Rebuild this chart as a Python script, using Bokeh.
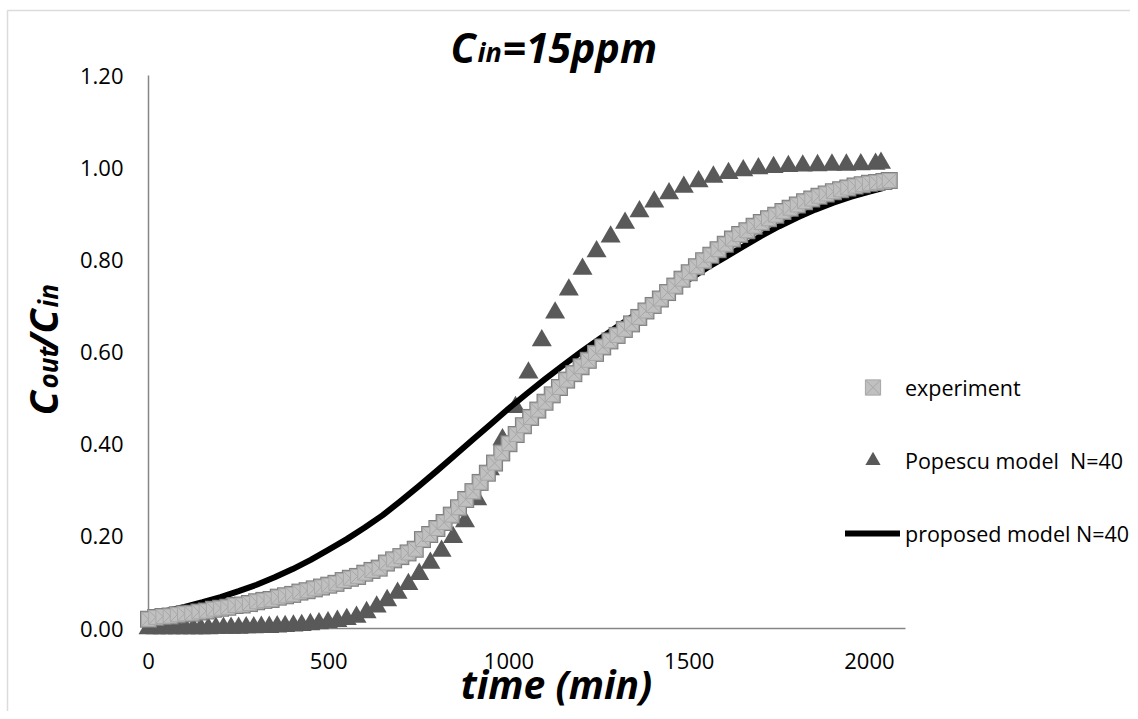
import math
from bokeh.plotting import figure
from bokeh.models import (Range1d, FixedTicker, NumeralTickFormatter, Label,
                          Legend, LegendItem, BoxAnnotation)
from bokeh.embed import file_html
from bokeh.resources import INLINE

# ---------------- data ----------------
exp_time = [0, 20, 40, 60, 80, 100, 120, 140, 160, 180, 200, 220, 240, 260, 280, 300,
            320, 340, 360, 380, 400, 420, 440, 460, 480, 500, 520, 540, 560, 580, 600,
            620, 640, 660, 680, 700, 720, 740, 760, 780, 800, 820, 840, 860, 880, 900,
            920, 940, 960, 980, 1000, 1020, 1040, 1060, 1080, 1100, 1120, 1140, 1160,
            1180, 1200, 1220, 1240, 1260, 1280, 1300, 1320, 1340, 1360, 1380, 1400,
            1420, 1440, 1460, 1480, 1500, 1520, 1540, 1560, 1580, 1600, 1620, 1640,
            1660, 1680, 1700, 1720, 1740, 1760, 1780, 1800, 1820, 1840, 1860, 1880,
            1900, 1920, 1940, 1960, 1980, 2000, 2020, 2040, 2055]
exp_value = [0.020, 0.024, 0.026, 0.027, 0.030, 0.032, 0.033, 0.036, 0.038, 0.042, 0.044,
             0.046, 0.050, 0.051, 0.054, 0.058, 0.061, 0.063, 0.068, 0.071, 0.074, 0.079,
             0.082, 0.086, 0.090, 0.094, 0.098, 0.104, 0.109, 0.113, 0.120, 0.126, 0.131,
             0.142, 0.149, 0.156, 0.164, 0.172, 0.193, 0.204, 0.217, 0.230, 0.246, 0.262,
             0.280, 0.297, 0.317, 0.337, 0.359, 0.381, 0.401, 0.421, 0.440, 0.458, 0.474,
             0.491, 0.507, 0.523, 0.539, 0.553, 0.568, 0.582, 0.597, 0.611, 0.624, 0.636,
             0.649, 0.661, 0.675, 0.689, 0.701, 0.715, 0.729, 0.743, 0.758, 0.772, 0.785,
             0.798, 0.810, 0.822, 0.834, 0.845, 0.855, 0.863, 0.873, 0.881, 0.889, 0.897,
             0.905, 0.912, 0.919, 0.926, 0.932, 0.938, 0.943, 0.948, 0.952, 0.956, 0.960,
             0.963, 0.966, 0.968, 0.970, 0.972]

pop_time = [0, 20, 40, 61, 82, 103, 124, 145, 166, 187, 208, 229, 250, 271, 292, 313,
            335, 357, 379, 402, 425, 449, 473, 498, 524, 550, 577, 605, 633, 662, 691,
            721, 751, 782, 813, 845, 878, 912, 947, 982, 1018, 1054, 1091, 1128, 1166,
            1204, 1243, 1282, 1322, 1362, 1403, 1444, 1485, 1526, 1567, 1609, 1650, 1692,
            1734, 1775, 1815, 1856, 1896, 1936, 1976, 2017, 2032]
pop_value = [0.000, 0.000, 0.000, 0.000, 0.000, 0.000, 0.000, 0.000, 0.000, 0.001, 0.001,
             0.001, 0.001, 0.002, 0.002, 0.003, 0.003, 0.004, 0.005, 0.006, 0.007, 0.009,
             0.011, 0.013, 0.016, 0.020, 0.025, 0.035, 0.047, 0.061, 0.077, 0.096, 0.118,
             0.142, 0.168, 0.198, 0.232, 0.280, 0.345, 0.410, 0.480, 0.555, 0.625, 0.685,
             0.735, 0.780, 0.818, 0.850, 0.880, 0.905, 0.926, 0.944, 0.958, 0.970, 0.980,
             0.988, 0.994, 0.998, 1.001, 1.003, 1.004, 1.005, 1.006, 1.006, 1.007, 1.008,
             1.010]

prop_time = [0, 50, 100, 150, 200, 250, 300, 350, 400, 450, 500, 550, 600, 650, 700, 750,
             800, 850, 900, 950, 1000, 1050, 1100, 1150, 1200, 1250, 1300, 1350, 1400,
             1450, 1500, 1550, 1600, 1650, 1700, 1750, 1800, 1850, 1900, 1950, 2000, 2040]
prop_value = [0.030, 0.038, 0.047, 0.057, 0.068, 0.081, 0.095, 0.111, 0.129, 0.149, 0.171,
              0.194, 0.219, 0.246, 0.277, 0.309, 0.342, 0.376, 0.410, 0.444, 0.478, 0.510,
              0.541, 0.571, 0.600, 0.628, 0.655, 0.681, 0.707, 0.733, 0.758, 0.783, 0.806,
              0.829, 0.852, 0.873, 0.892, 0.909, 0.924, 0.937, 0.948, 0.956]

x_ticks = [0, 500, 1000, 1500, 2000]
y_ticks = [0.0, 0.2, 0.4, 0.6, 0.8, 1.0, 1.2]

series_labels = ["experiment", "Popescu model  N=40", "proposed model N=40"]

FONT = "Open Sans"
W, H = 1130, 711

# frame covers the whole canvas; data origin sits at canvas (148, 628)
X0, Y0 = 148, 628
PX_X = 757 / 2100.0
PX_Y = 553 / 1.2
x_range = Range1d(-X0 / PX_X, (W - X0) / PX_X)
y_range = Range1d(-(H - Y0) / PX_Y, Y0 / PX_Y)

# ---------------- figure ----------------
p = figure(width=W, height=H, output_backend="svg", toolbar_location=None,
           x_range=x_range, y_range=y_range, min_border=0)
p.title.visible = False
p.outline_line_color = None
p.grid.visible = False
p.background_fill_color = "white"
p.border_fill_color = "white"

for ax in (p.xaxis[0], p.yaxis[0]):
    ax.fixed_location = 0
    ax.major_tick_out = 0
    ax.major_tick_in = 0
    ax.minor_tick_out = 0
    ax.minor_tick_in = 0
    ax.axis_line_color = "#868686"
    ax.axis_line_width = 1.5
    ax.major_label_text_font = FONT
    ax.major_label_text_font_size = "22px"
    ax.major_label_text_color = "black"
    ax.level = "underlay"

p.xaxis[0].bounds = (0, 2100)
p.yaxis[0].bounds = (0, 1.2)
p.xaxis[0].ticker = FixedTicker(ticks=x_ticks)
p.yaxis[0].ticker = FixedTicker(ticks=y_ticks)
p.yaxis[0].formatter = NumeralTickFormatter(format="0.00")
p.yaxis[0].major_label_standoff = 25
p.xaxis[0].major_label_standoff = 24

# ---------------- data glyphs ----------------
r_pop = p.scatter(pop_time, pop_value, marker="triangle", size=20,
                  fill_color="#595959", line_color=None)
r_line = p.line(prop_time, prop_value, line_width=6, line_color="black",
                line_cap="round", line_join="round")
r_exp_dark = p.scatter(exp_time, exp_value, marker="square", size=17,
                       fill_color="#7f7f7f", line_color=None)
r_exp_light = p.scatter(exp_time, exp_value, marker="square_x", size=14,
                        fill_color="#c0c0c0", line_color="#a8a8a8", line_width=1)

# ---------------- legend ----------------
legend = Legend(items=[
    LegendItem(label=series_labels[0], renderers=[r_exp_dark, r_exp_light]),
    LegendItem(label=series_labels[1], renderers=[r_pop]),
    LegendItem(label=series_labels[2], renderers=[r_line]),
], location=(845, 159), orientation="vertical", glyph_width=55, glyph_height=38,
    label_height=38, spacing=35, padding=0, margin=0, label_standoff=5,
    border_line_color=None, background_fill_alpha=0,
    label_text_font=FONT, label_text_font_size="21.5px", label_text_color="black")
p.add_layout(legend)


# ---------------- texts ----------------
def lab(text, x, y, size, angle=0.0):
    return Label(x=x, y=y, x_units="canvas", y_units="canvas", text=text,
                 text_font=FONT, text_font_size=size, text_font_style="bold italic",
                 text_color="black", text_baseline="alphabetic", text_align="left",
                 angle=angle)

# title  C_in=15ppm
p.add_layout(lab("C", 450, 46, "41px"))
p.add_layout(lab("in", 477, 51, "27px"))
p.add_layout(lab("=15ppm", 502, 46, "41px"))

# x axis title
xl = lab("time (min)", 556, 683, "39px")
xl.text_align = "center"
p.add_layout(xl)

# y axis title  C_out / C_in  (rotated)
a = math.pi / 2
p.add_layout(lab("C", 42, 415, "40px", a))
p.add_layout(lab("out", 47, 388, "26px", a))
p.add_layout(lab("/C", 42, 350, "40px", a))
p.add_layout(lab("in", 47, 307, "26px", a))

# outer chart border
p.add_layout(BoxAnnotation(left=7, right=1400, top=10, bottom=1000,
                           left_units="canvas", right_units="canvas",
                           top_units="canvas", bottom_units="canvas",
                           fill_alpha=0, line_color="#8c8c8c", line_width=1.5))

open("out.html", "w").write(file_html(p, INLINE))
